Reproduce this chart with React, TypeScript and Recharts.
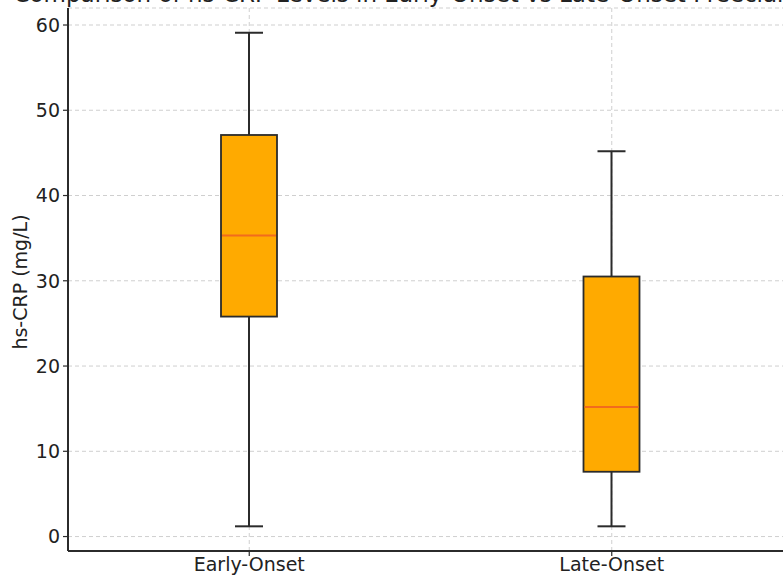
import { ComposedChart, Bar, XAxis, YAxis, CartesianGrid } from 'recharts'

const groups = ['Early-Onset', 'Late-Onset']
const whiskerLow = [1.2, 1.2]
const q1 = [25.8, 7.6]
const median = [35.3, 15.2]
const q3 = [47.1, 30.5]
const whiskerHigh = [59.1, 45.2]
const yTicks = [0, 10, 20, 30, 40, 50, 60]

const data = groups.map((name, i) => ({
  name,
  box: [q1[i], q3[i]],
  lo: whiskerLow[i],
  med: median[i],
  hi: whiskerHigh[i],
}))

const FONT = '"DejaVu Sans", sans-serif'
const INK = '#2b2b2b'

function BoxShape(props: any) {
  const { x, y, width, height, payload } = props
  const top = Math.min(y, y + height)
  const h = Math.abs(height)
  const [lo, hi] = payload.box
  // value -> pixel, from the bar's own scaled extent
  const py = (v: number) => top + ((hi - v) * h) / (hi - lo)
  const cx = x + width / 2
  const cap = width / 4
  return (
    <g>
      <line x1={cx} x2={cx} y1={py(payload.hi)} y2={top} stroke={INK} strokeWidth={2} />
      <line x1={cx} x2={cx} y1={top + h} y2={py(payload.lo)} stroke={INK} strokeWidth={2} />
      <line x1={cx - cap} x2={cx + cap} y1={py(payload.hi)} y2={py(payload.hi)} stroke={INK} strokeWidth={2} />
      <line x1={cx - cap} x2={cx + cap} y1={py(payload.lo)} y2={py(payload.lo)} stroke={INK} strokeWidth={2} />
      <rect x={x} y={top} width={width} height={h} fill="#ffaa00" stroke={INK} strokeWidth={1.8} />
      <line x1={x + 1} x2={x + width - 1} y1={py(payload.med)} y2={py(payload.med)} stroke="#f26b1d" strokeWidth={2} />
    </g>
  )
}

export default function App() {
  return (
    <div style={{ position: 'absolute', left: 0, top: 0, width: 783, height: 577, overflow: 'hidden', background: '#fff' }}>
      <ComposedChart
        width={800}
        height={577}
        data={data}
        margin={{ top: 8, right: 7, bottom: 0, left: 0 }}
        style={{ fontFamily: FONT }}
      >
        <CartesianGrid stroke="#cfcfcf" strokeDasharray="4 3" strokeWidth={1} />
        <XAxis
          dataKey="name"
          height={26}
          tickSize={5}
          tickMargin={2}
          tick={{ fill: '#222', fontSize: 19, fontFamily: FONT }}
          axisLine={{ stroke: INK, strokeWidth: 2 }}
          tickLine={{ stroke: INK, strokeWidth: 1.2 }}
        />
        <YAxis
          type="number"
          domain={[-1.695, 61.995]}
          ticks={yTicks}
          allowDataOverflow
          width={68}
          tickSize={5}
          tickMargin={3}
          tick={{ fill: '#222', fontSize: 19, fontFamily: FONT }}
          axisLine={{ stroke: INK, strokeWidth: 2 }}
          tickLine={{ stroke: INK, strokeWidth: 1.2 }}
        />
        <Bar dataKey="box" barSize={56} shape={BoxShape} isAnimationActive={false} />
        {/* title is cropped at the top edge in the reference, only its bottom shows */}
        <text
          x={430}
          y={2}
          textAnchor="middle"
          fontSize={23}
          fontFamily={FONT}
          fill="#222"
        >
          Comparison of hs-CRP Levels in Early-Onset vs Late-Onset Preeclampsia
        </text>
        <text
          x={20}
          y={282}
          transform="rotate(-90 20 282)"
          textAnchor="middle"
          dominantBaseline="central"
          fontSize={19}
          fontFamily={FONT}
          fill="#222"
        >
          hs-CRP (mg/L)
        </text>
      </ComposedChart>
    </div>
  )
}
